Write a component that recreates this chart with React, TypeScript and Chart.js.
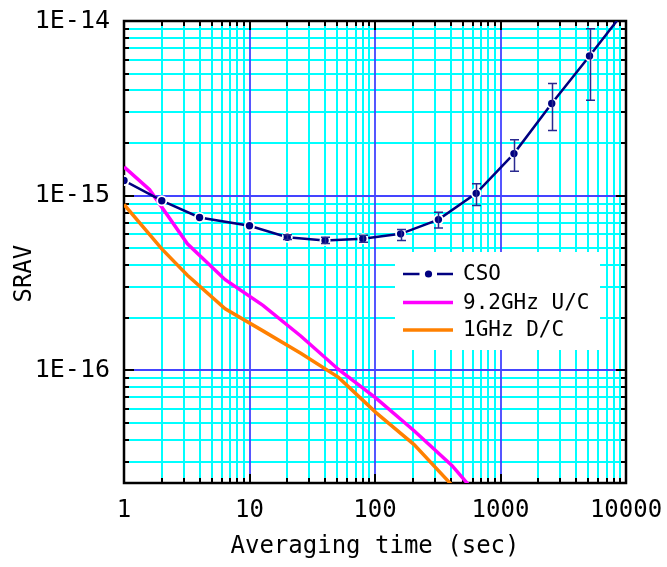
import React, { useEffect, useRef } from 'react';
import { Chart, registerables } from 'chart.js';

Chart.register(...registerables);

// ---------------- data ----------------
const csoX = [1, 2, 4, 10, 20, 40, 80, 160, 320, 640, 1280, 2560, 5120];
const csoY = [1.22e-15, 9.35e-16, 7.5e-16, 6.72e-16, 5.78e-16, 5.53e-16, 5.66e-16, 6.04e-16, 7.29e-16, 1.03e-15, 1.74e-15, 3.37e-15, 6.31e-15];
const csoErrLow = [null, null, null, null, 5.6e-16, 5.32e-16, 5.4e-16, 5.53e-16, 6.53e-16, 8.77e-16, 1.38e-15, 2.36e-15, 3.52e-15];
const csoErrHigh = [null, null, null, null, 5.97e-16, 5.77e-16, 5.93e-16, 6.4e-16, 8.03e-16, 1.17e-15, 2.09e-15, 4.38e-15, 9.04e-15];
// the CSO curve continues past the last measured point up to the frame
const csoLineEndX = 10000;
const csoLineEndY = 1.17e-14;

const upX = [1, 1.6, 3.2, 6.4, 12.8, 25.6, 51.2, 102.4, 204.8, 409.6, 819.2];
const upY = [1.46e-15, 1.08e-15, 5.3e-16, 3.3e-16, 2.35e-16, 1.57e-16, 1.01e-16, 6.9e-17, 4.5e-17, 2.85e-17, 1.6e-17];

const downX = [1, 2, 3.2, 6.4, 12.8, 25.6, 51.2, 102.4, 204.8, 409.6];
const downY = [8.9e-16, 4.95e-16, 3.5e-16, 2.25e-16, 1.68e-16, 1.25e-16, 9.1e-17, 5.7e-17, 3.75e-17, 2.2e-17];

const seriesLabels = ['CSO', '9.2GHz U/C', '1GHz D/C'];

const xMajorValues = [1, 10, 100, 1000, 10000];
const xTickLabels = ['1', '10', '100', '1000', '10000'];
const yMajorValues = [1e-17, 1e-16, 1e-15, 1e-14];
const yTickLabels = ['', '1E-16', '1E-15', '1E-14'];

const xMin = 1;
const xMax = 10000;
const yMin = 2.26e-17;
const yMax = 1e-14;

const axisTitleX = 'Averaging time (sec)';
const axisTitleY = 'SRAV';

// ---------------- helpers ----------------
const FONT = "'DejaVu Sans Mono', monospace";
const NAVY = '#000080';
const MAGENTA = '#ff00ff';
const ORANGE = '#ff8000';
const CYAN = '#00ffff';
const BLUE = '#4444ff';
const CLEAR = 'rgba(0,0,0,0)';

function buildTicks(majors: number[], lo: number, hi: number): number[] {
  const out: number[] = [];
  for (let i = 0; i < majors.length; i++) {
    const d = majors[i];
    for (let m = 1; m <= 9; m++) {
      const v = d * m;
      if (v >= lo * 0.9999 && v <= hi * 1.0001) out.push(v);
      if (i === majors.length - 1) break;
    }
  }
  return out;
}
const xTickValues = buildTicks(xMajorValues, xMin, xMax);
const yTickValues = buildTicks(yMajorValues, yMin, yMax);

function majorIndex(v: number, majors: number[]): number {
  for (let i = 0; i < majors.length; i++) {
    if (Math.abs(Math.log10(v) - Math.log10(majors[i])) < 1e-6) return i;
  }
  return -1;
}

const decorPlugin = {
  id: 'decor',
  beforeDatasetsDraw(chart: any) {
    const { ctx, chartArea: a, scales } = chart;
    const xs = scales.x;
    const ys = scales.y;
    ctx.save();
    // grid: minor (cyan) first, then decades (blue)
    for (const major of [false, true]) {
      ctx.strokeStyle = major ? BLUE : CYAN;
      ctx.lineWidth = major ? 1.8 : 2;
      ctx.beginPath();
      xTickValues.forEach((v) => {
        if ((majorIndex(v, xMajorValues) >= 0) !== major) return;
        const px = Math.round(xs.getPixelForValue(v));
        ctx.moveTo(px, a.top);
        ctx.lineTo(px, a.bottom);
      });
      yTickValues.forEach((v) => {
        if ((majorIndex(v, yMajorValues) >= 0) !== major) return;
        const py = Math.round(ys.getPixelForValue(v));
        ctx.moveTo(a.left, py);
        ctx.lineTo(a.right, py);
      });
      ctx.stroke();
    }
    // inward tick marks on all four sides
    ctx.strokeStyle = '#000';
    ctx.lineWidth = 2;
    ctx.beginPath();
    xTickValues.forEach((v) => {
      const px = Math.round(xs.getPixelForValue(v));
      const len = majorIndex(v, xMajorValues) >= 0 ? 9 : 5;
      ctx.moveTo(px, a.bottom);
      ctx.lineTo(px, a.bottom - len);
      ctx.moveTo(px, a.top);
      ctx.lineTo(px, a.top + len);
    });
    yTickValues.forEach((v) => {
      const py = Math.round(ys.getPixelForValue(v));
      const len = majorIndex(v, yMajorValues) >= 0 ? 10 : 5;
      ctx.moveTo(a.left, py);
      ctx.lineTo(a.left + len, py);
      ctx.moveTo(a.right, py);
      ctx.lineTo(a.right - len, py);
    });
    ctx.stroke();
    ctx.lineWidth = 2.5;
    ctx.strokeRect(a.left, a.top, a.right - a.left, a.bottom - a.top);
    ctx.restore();
  },
  afterDatasetsDraw(chart: any) {
    const { ctx, chartArea: a, scales } = chart;
    const xs = scales.x;
    const ys = scales.y;
    // error bars
    ctx.save();
    ctx.beginPath();
    ctx.rect(a.left, a.top, a.right - a.left, a.bottom - a.top);
    ctx.clip();
    ctx.strokeStyle = '#2a2a90';
    ctx.lineWidth = 1.5;
    ctx.beginPath();
    csoX.forEach((xv, i) => {
      const lo = csoErrLow[i];
      const hi = csoErrHigh[i];
      if (lo == null || hi == null) return;
      const px = Math.round(xs.getPixelForValue(xv)) + 0.5;
      const pLo = ys.getPixelForValue(lo);
      const pHi = ys.getPixelForValue(hi);
      ctx.moveTo(px, pLo);
      ctx.lineTo(px, pHi);
      ctx.moveTo(px - 4.5, pLo);
      ctx.lineTo(px + 4.5, pLo);
      ctx.moveTo(px - 4.5, pHi);
      ctx.lineTo(px + 4.5, pHi);
    });
    ctx.stroke();
    ctx.restore();

    // legend
    const ds = chart.data.datasets;
    const bx = a.left + 271;
    const by = a.top + 231;
    const bw = 205;
    const bh = 98;
    ctx.save();
    ctx.fillStyle = '#ffffff';
    ctx.fillRect(bx, by, bw, bh);
    const rows = [22, 50.5, 78];
    ds.forEach((d: any, i: number) => {
      const cy = by + rows[i];
      const x0 = bx + 8;
      const x1 = bx + 58;
      ctx.strokeStyle = d.borderColor;
      ctx.lineWidth = d.borderWidth;
      ctx.beginPath();
      if (i === 0) {
        ctx.moveTo(x0, cy);
        ctx.lineTo(x0 + 16.5, cy);
        ctx.moveTo(x1 - 16, cy);
        ctx.lineTo(x1, cy);
        ctx.stroke();
        ctx.fillStyle = d.borderColor;
        ctx.beginPath();
        ctx.arc((x0 + x1) / 2 + 0.5, cy, 3.6, 0, Math.PI * 2);
        ctx.fill();
      } else {
        ctx.moveTo(x0, cy);
        ctx.lineTo(x1, cy);
        ctx.stroke();
      }
      ctx.fillStyle = '#000';
      ctx.font = `21px ${FONT}`;
      ctx.textBaseline = 'middle';
      ctx.textAlign = 'left';
      ctx.fillText(d.label, bx + 68, cy + 1);
    });
    ctx.restore();
  },
};

export default function App() {
  const ref = useRef<HTMLCanvasElement | null>(null);

  useEffect(() => {
    if (!ref.current) return;
    const csoData = csoX.map((x, i) => ({ x, y: csoY[i] }));
    csoData.push({ x: csoLineEndX, y: csoLineEndY });
    const upData = upX.map((x, i) => ({ x, y: upY[i] }));
    const downData = downX.map((x, i) => ({ x, y: downY[i] }));

    const chart = new Chart(ref.current, {
      type: 'line',
      data: {
        datasets: [
          {
            label: seriesLabels[0],
            data: csoData,
            borderColor: NAVY,
            backgroundColor: NAVY,
            borderWidth: 2.5,
            pointRadius: (c: any) => (c.dataIndex < csoX.length ? 4.6 : 0),
            pointBackgroundColor: NAVY,
            pointBorderColor: '#ffffff',
            pointBorderWidth: 1.8,
            tension: 0,
          },
          {
            label: seriesLabels[1],
            data: upData,
            borderColor: MAGENTA,
            backgroundColor: MAGENTA,
            borderWidth: 3.5,
            pointRadius: 0,
            tension: 0,
          },
          {
            label: seriesLabels[2],
            data: downData,
            borderColor: ORANGE,
            backgroundColor: ORANGE,
            borderWidth: 3.5,
            pointRadius: 0,
            tension: 0,
          },
        ],
      },
      options: {
        animation: false,
        responsive: false,
        devicePixelRatio: 1,
        layout: { padding: { top: 21, right: 41, left: 0, bottom: 0 } },
        plugins: {
          legend: { display: false },
          tooltip: { enabled: false },
        },
        scales: {
          x: {
            type: 'logarithmic',
            min: xMin,
            max: xMax,
            afterBuildTicks: (s: any) => {
              s.ticks = xTickValues.map((v) => ({ value: v }));
            },
            afterFit: (s: any) => {
              s.height = 84;
            },
            grid: { display: true, color: CLEAR, tickColor: CLEAR, drawTicks: true, tickLength: 13 },
            border: { display: false },
            ticks: {
              autoSkip: false,
              maxRotation: 0,
              minRotation: 0,
              padding: 0,
              color: '#000',
              font: { family: FONT, size: 24 },
              callback: (v: any) => {
                const i = majorIndex(Number(v), xMajorValues);
                return i >= 0 ? xTickLabels[i] : '';
              },
            },
            title: {
              display: true,
              text: axisTitleX,
              color: '#000',
              font: { family: FONT, size: 24 },
              padding: { top: 0, bottom: 6 },
            },
          },
          y: {
            type: 'logarithmic',
            min: yMin,
            max: yMax,
            afterBuildTicks: (s: any) => {
              s.ticks = yTickValues.map((v) => ({ value: v }));
            },
            afterFit: (s: any) => {
              s.width = 124;
            },
            grid: { display: true, color: CLEAR, tickColor: CLEAR, drawTicks: true, tickLength: 14 },
            border: { display: false },
            ticks: {
              autoSkip: false,
              padding: 0,
              color: '#000',
              font: { family: FONT, size: 25 },
              callback: (v: any) => {
                const i = majorIndex(Number(v), yMajorValues);
                return i >= 0 ? yTickLabels[i] : '';
              },
            },
            title: {
              display: true,
              text: axisTitleY + '   ',
              color: '#000',
              font: { family: FONT, size: 24 },
              padding: { top: 10, bottom: 0 },
            },
          },
        },
      },
      plugins: [decorPlugin],
    } as any);

    return () => chart.destroy();
  }, []);

  return (
    <div style={{ position: 'fixed', left: 0, top: 0, width: 667, height: 567, background: '#fff' }}>
      <canvas ref={ref} width={667} height={567} style={{ display: 'block', width: 667, height: 567 }} />
    </div>
  );
}
